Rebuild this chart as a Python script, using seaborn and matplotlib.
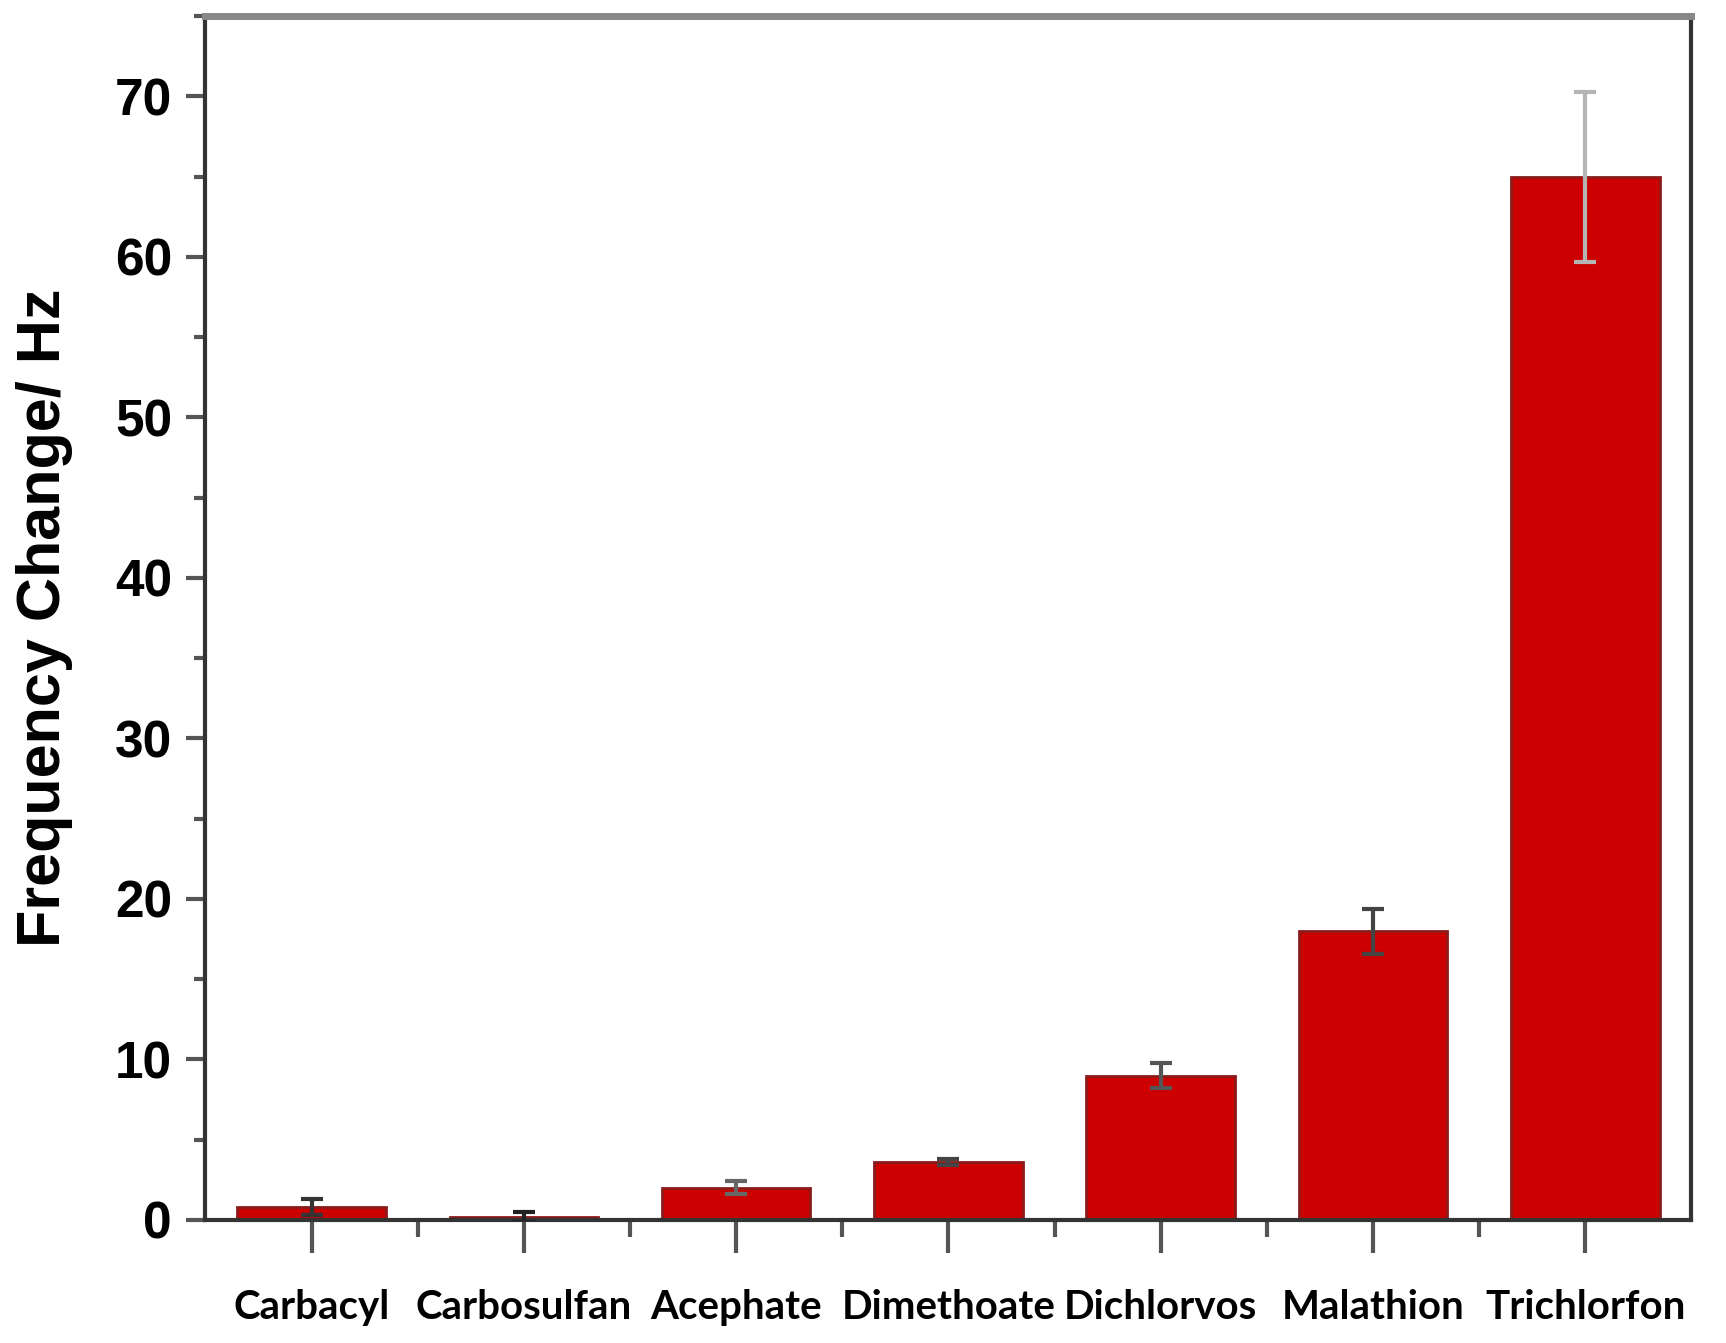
import matplotlib
matplotlib.use('Agg')
import matplotlib.pyplot as plt
import seaborn as sns
import pandas as pd
from matplotlib.ticker import MultipleLocator, FixedLocator

pesticides = ['Carbacyl', 'Carbosulfan', 'Acephate', 'Dimethoate', 'Dichlorvos', 'Malathion', 'Trichlorfon']
freq_change = [0.8, 0.2, 2.0, 3.6, 9.0, 18.0, 65.0]
freq_err = [0.5, 0.3, 0.4, 0.2, 0.8, 1.4, 5.3]
err_colors = ['#333333', '#222222', '#666666', '#444444', '#555555', '#444444', '#b5b5b5']

df = pd.DataFrame({'Pesticide': pesticides, 'Freq': freq_change, 'Err': freq_err})

sns.set_style('ticks')
plt.rcParams['font.family'] = ['Liberation Sans', 'DejaVu Sans']
plt.rcParams['text.color'] = 'black'
plt.rcParams['axes.labelcolor'] = 'black'
plt.rcParams['xtick.labelcolor'] = 'black'
plt.rcParams['ytick.labelcolor'] = 'black'

fig = plt.figure(figsize=(17.26, 13.43), dpi=100)
ax = fig.add_axes([0.119, 0.0916, 0.861, 0.8964])

sns.barplot(data=df, x='Pesticide', y='Freq', color='#cc0000', width=0.7,
            edgecolor='#8b1a1a', linewidth=2, saturation=1, errorbar=None, ax=ax)

for i, (v, e, c) in enumerate(zip(freq_change, freq_err, err_colors)):
    ax.errorbar(i, v, yerr=e, fmt='none', ecolor=c, elinewidth=3, capsize=8, capthick=3, zorder=5)

ax.set_xlim(-0.5, 6.5)
ax.set_ylim(0, 75)
ax.yaxis.set_major_locator(MultipleLocator(10))
ax.yaxis.set_minor_locator(MultipleLocator(5))
ax.xaxis.set_minor_locator(FixedLocator([0.5, 1.5, 2.5, 3.5, 4.5, 5.5]))

ax.set_xlabel('')
ax.set_ylabel('Frequency Change/ Hz', fontsize=44, fontweight='bold', labelpad=30)
ax.set_xticks(range(len(pesticides)))
ax.set_xticklabels(pesticides, fontsize=29, fontweight='bold', family=['Lato', 'DejaVu Sans'])
for lab in ax.get_yticklabels():
    lab.set_fontsize(37)
    lab.set_fontweight('bold')

ax.tick_params(axis='x', which='major', direction='out', length=24, width=3, color='#555555', pad=26)
ax.tick_params(axis='x', which='minor', direction='out', length=12, width=3, color='#555555')
ax.tick_params(axis='y', which='major', direction='out', length=14, width=3, color='#555555', pad=10)
ax.tick_params(axis='y', which='minor', direction='out', length=8, width=3, color='#555555')

for side in ['left', 'bottom', 'right']:
    ax.spines[side].set_linewidth(3)
    ax.spines[side].set_color('#333333')
ax.spines['top'].set_linewidth(5)
ax.spines['top'].set_color('#888888')
ax.spines['right'].set_visible(True)
ax.spines['top'].set_visible(True)

fig.savefig('out.png', dpi=100)
